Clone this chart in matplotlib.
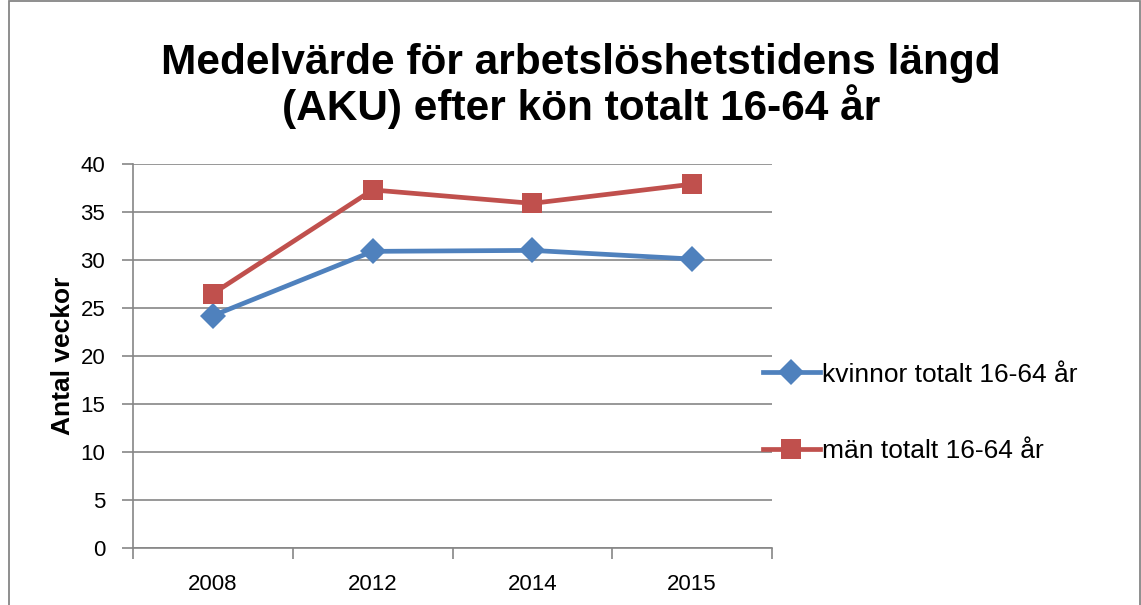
import matplotlib
matplotlib.use("Agg")
import matplotlib.pyplot as plt
from matplotlib.patches import Rectangle

# -----------------------------
# Data
# -----------------------------
years = ["2008", "2012", "2014", "2015"]
kvinnor = [24.2, 30.9, 31.0, 30.1]
man = [26.5, 37.3, 35.9, 37.9]

plt.rcParams['font.family'] = ['Liberation Sans', 'DejaVu Sans']

grid_col = "#868686"
blue = "#4F81BD"
red = "#C0504D"

fig = plt.figure(figsize=(11.41, 6.05), dpi=100)
ax = fig.add_axes([133 / 1141, 57 / 605, (772 - 133) / 1141, (548 - 164) / 605])

# border around the chart area
fig.patches.append(Rectangle((8.5 / 1141, -0.05), 1131 / 1141, 1.05 - 1.5 / 605,
                             transform=fig.transFigure,
                             fill=False, edgecolor=grid_col, linewidth=1.3))

x = list(range(len(years)))
ax.plot(x, kvinnor, color=blue, lw=3.4, marker='D', ms=13, mew=0,
        label="kvinnor totalt 16-64 år")
ax.plot(x, man, color=red, lw=3.4, marker='s', ms=14, mew=0,
        label="män totalt 16-64 år")

ax.set_ylim(0, 40)
ax.set_yticks(range(0, 41, 5))
ax.set_xlim(-0.5, 3.5)
ax.set_xticks([-0.5, 0.5, 1.5, 2.5, 3.5])
ax.set_xticklabels([])
ax.set_xticks(x, minor=True)
ax.set_xticklabels(years, minor=True)

ax.grid(axis='y', color=grid_col, lw=1.2)
ax.set_axisbelow(True)
for s in ['top', 'right']:
    ax.spines[s].set_visible(False)
for s in ['left', 'bottom']:
    ax.spines[s].set_color(grid_col)
    ax.spines[s].set_linewidth(1.2)

ax.tick_params(axis='y', which='major', length=8, color=grid_col, width=1.2,
               labelsize=16, pad=12)
ax.tick_params(axis='x', which='major', length=8, color=grid_col, width=1.2)
ax.tick_params(axis='x', which='minor', length=0, labelsize=16, pad=19)

ax.set_ylabel("Antal veckor", fontsize=19, fontweight='bold', labelpad=4)

fig.text(581 / 1141, 1 - 86 / 605,
         "Medelvärde för arbetslöshetstidens längd\n(AKU) efter kön totalt 16-64 år",
         ha='center', va='center', fontsize=30.5, fontweight='bold', linespacing=1.05)

fig.legend(loc='center left', bbox_to_anchor=(763 / 1141, 1 - 413 / 605),
           frameon=False, fontsize=19, handlelength=2.15, handletextpad=0.1,
           labelspacing=2.0, borderpad=0, borderaxespad=0)

plt.savefig("out.png", dpi=100)
plt.close()
